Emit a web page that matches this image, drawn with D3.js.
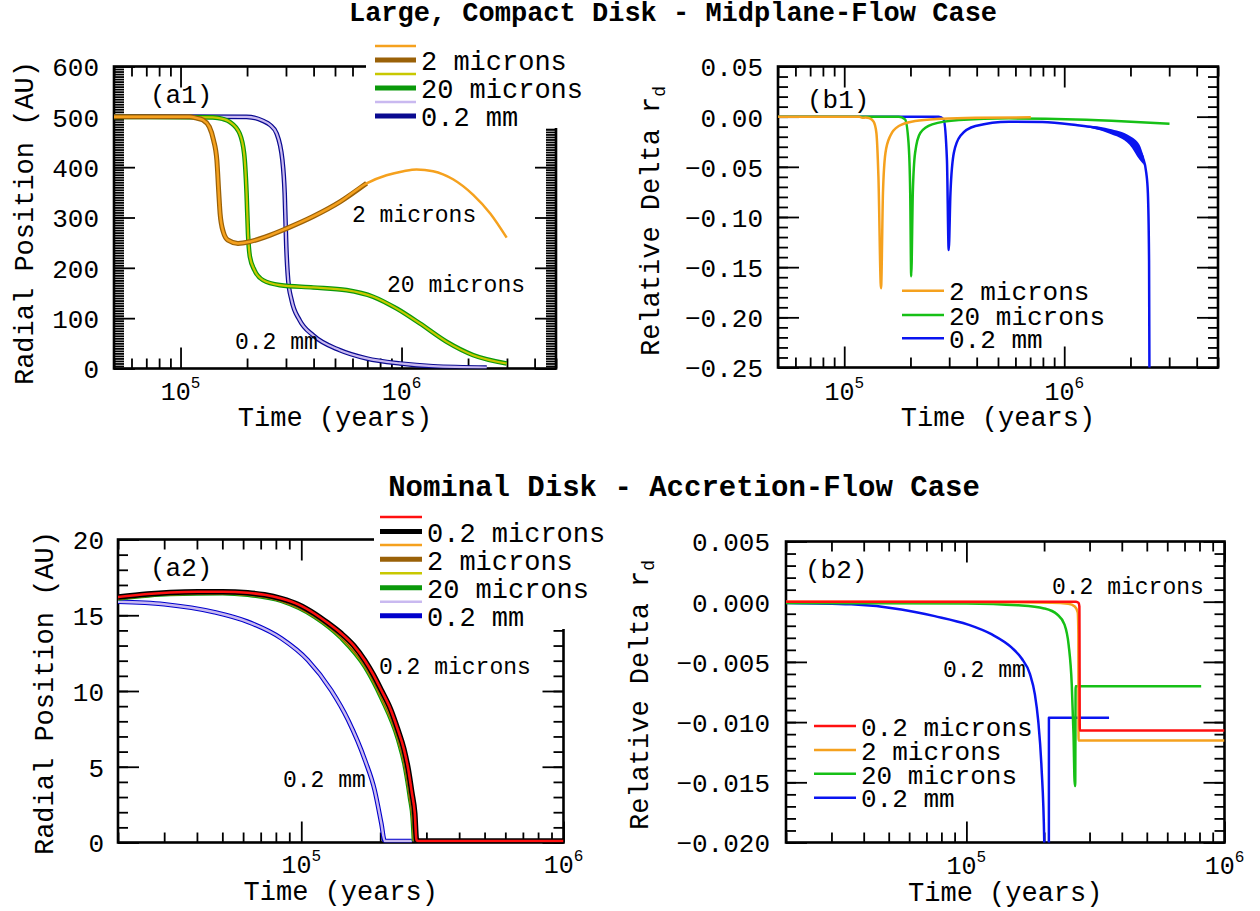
<!DOCTYPE html>
<html>
<head>
<meta charset="utf-8">
<title>Dust grain drift in two disk models</title>
<script src="https://cdn.jsdelivr.net/npm/d3@7/dist/d3.min.js"></script>
<style>
  html, body { margin: 0; padding: 0; background: #ffffff; }
  svg { display: block; }
</style>
</head>
<body>
<svg id="chart" width="1260" height="911"></svg>
<script>
// ---------------------------------------------------------------
// Data: each series is a list of [time (years), value]
// ---------------------------------------------------------------

// (a1) radial position (AU), large compact disk, midplane flow
const a1Brown2um = [[5.0e4,500],[1.10e5,500],[1.17e5,498],[1.26e5,494],[1.35e5,480],[1.41e5,454],
  [1.46e5,414],[1.49e5,348],[1.51e5,308],[1.56e5,272],[1.64e5,255],[1.82e5,248.5],[2.06e5,252],
  [2.44e5,262],[3.01e5,278],[3.98e5,302],[5.26e5,331],[6.95e5,368]];
const a1Orange2um = [[5.0e4,500],[1.10e5,500],[1.17e5,498],[1.26e5,494],[1.35e5,480],[1.41e5,454],
  [1.46e5,414],[1.49e5,348],[1.51e5,308],[1.56e5,272],[1.64e5,255],[1.82e5,248.5],[2.06e5,252],
  [2.44e5,262],[3.01e5,278],[3.98e5,302],[5.26e5,331],[6.95e5,368],[8.55e5,384],[1.02e6,392],
  [1.17e6,395.6],[1.39e6,392],[1.71e6,376],[2.11e6,345],[2.52e6,308],[2.99e6,260]];
const a1Green20um = [[5.0e4,500],[1.40e5,499],[1.55e5,496],[1.67e5,490],[1.85e5,467],[1.94e5,427],
  [1.99e5,348],[2.02e5,268],[2.06e5,222],[2.16e5,195.5],[2.36e5,175.6],[2.81e5,165.7],[3.98e5,161],
  [5.64e5,155.7],[7.45e5,142.5],[9.51e5,119],[1.21e6,89.5],[1.60e6,53],[2.11e6,26.5],[2.99e6,10]];
const a1Yellow20um = [[5.0e4,500],[1.40e5,499],[1.55e5,496],[1.67e5,490],[1.85e5,467],[1.94e5,427],
  [1.99e5,348],[2.02e5,268],[2.06e5,222],[2.16e5,195.5],[2.36e5,175.6],[2.81e5,165.7],[3.98e5,161],
  [5.64e5,155.7],[7.45e5,142.5],[9.51e5,119],[1.21e6,89.5],[1.60e6,53],[2.11e6,26.5],[2.99e6,10]];
const a1Navy02mm = [[5.0e4,501],[1.99e5,500],[2.36e5,492],[2.54e5,484],[2.72e5,467],[2.89e5,414],
  [2.96e5,348],[3.01e5,242],[3.07e5,175.6],[3.18e5,136],[3.46e5,96],[3.98e5,66],[5.26e5,36.4],
  [6.95e5,20],[9.84e5,10],[1.39e6,4.6],[2.43e6,2]];
const a1Lavender02mm = [[5.0e4,501],[1.99e5,500],[2.36e5,492],[2.54e5,484],[2.72e5,467],[2.89e5,414],
  [2.96e5,348],[3.01e5,242],[3.07e5,175.6],[3.18e5,136],[3.46e5,96],[3.98e5,66],[5.26e5,36.4],
  [6.95e5,20],[9.84e5,10],[1.39e6,4.6],[2.43e6,2]];

// (b1) relative delta r_d, large compact disk
const b1Orange2um = [[5.0e4,0],[1.17e5,0],[1.21e5,-0.0012],[1.25e5,-0.0008],[1.30e5,-0.0015],
  [1.36e5,-0.005],[1.40e5,-0.016],[1.43e5,-0.059],[1.47e5,-0.171],[1.50e5,-0.076],[1.54e5,-0.036],
  [1.62e5,-0.019],[1.77e5,-0.0093],[2.10e5,-0.0043],[2.78e5,-0.002],[3.95e5,-0.001],[7.05e5,-0.0007]];
const b1Green20um = [[5.0e4,0],[1.77e5,0],[1.89e5,-0.0027],[1.96e5,-0.026],[1.995e5,-0.076],
  [2.016e5,-0.159],[2.05e5,-0.076],[2.10e5,-0.036],[2.22e5,-0.016],[2.51e5,-0.0077],[3.32e5,-0.0033],
  [5.61e5,-0.0017],[1.13e6,-0.0027],[1.91e6,-0.0047],[3.01e6,-0.007]];
const b1Blue02mm = [[5.0e4,0],[2.69e5,0],[2.83e5,-0.0027],[2.93e5,-0.043],[2.985e5,-0.133],
  [3.04e5,-0.076],[3.15e5,-0.036],[3.375e5,-0.019],[3.95e5,-0.0093],[5.61e5,-0.005],[7.96e5,-0.0053],
  [1.13e6,-0.0083],[1.35e6,-0.0105],[1.60e6,-0.0143],[1.98e6,-0.0235],[2.20e6,-0.034],[2.28e6,-0.041],
  [2.36e6,-0.056],[2.40e6,-0.076],[2.43e6,-0.143],[2.44e6,-0.26]];
// scatter band of the 0.2 mm run late in its drift: [time, low, high]
const b1Blue02mmBand = [[1.20e6,-0.0095,-0.0092],[1.35e6,-0.0118,-0.0093],[1.60e6,-0.0167,-0.0120],
  [1.98e6,-0.0280,-0.0190],[2.20e6,-0.0430,-0.0280],[2.30e6,-0.0480,-0.0400]];

// (a2) radial position (AU), nominal disk, accretion flow
const a2Black02um = [[2.0e4,16.2],[2.59e4,16.4],[3.16e4,16.5],[4.03e4,16.55],[5.01e4,16.55],
  [6.25e4,16.48],[7.24e4,16.35],[8.40e4,16.1],[9.77e4,15.7],[1.125e5,15.1],[1.26e5,14.5],
  [1.42e5,13.8],[1.585e5,13.0],[1.75e5,12.0],[1.88e5,11.1],[2.02e5,10.05],[2.19e5,8.8],[2.34e5,7.4],
  [2.46e5,6.2],[2.56e5,4.8],[2.64e5,3.3],[2.71e5,1.9],[2.75e5,0.15],[2.79e5,0.1],[1.0e6,0.1]];
const a2Red02um = a2Black02um.map(d => d.slice());
const a2Brown2um = [[2.0e4,16.15],[3.16e4,16.45],[5.01e4,16.5],[6.25e4,16.42],[8.40e4,16.02],
  [1.125e5,15.0],[1.42e5,13.65],[1.75e5,11.8],[2.02e5,9.8],[2.34e5,7.1],[2.50e5,5.2],[2.62e5,3.0],
  [2.68e5,1.7],[2.72e5,0.1]];
const a2Orange2um = a2Brown2um.map(d => d.slice());
const a2Green20um = [[2.0e4,16.1],[3.16e4,16.4],[5.01e4,16.45],[6.25e4,16.35],[8.40e4,15.95],
  [1.125e5,14.9],[1.42e5,13.5],[1.75e5,11.6],[2.02e5,9.55],[2.34e5,6.8],[2.48e5,5.1],[2.60e5,2.9],
  [2.66e5,1.6],[2.69e5,0.1]];
const a2Yellow20um = a2Green20um.map(d => d.slice());
const a2Blue02mm = [[2.0e4,15.89],[3.0e4,15.73],[4.67e4,15.2],[6.25e4,14.57],[8.40e4,13.47],
  [1.06e5,12.03],[1.30e5,10.05],[1.51e5,8.07],[1.75e5,5.43],[1.905e5,3.45],[2.02e5,1.25],
  [2.08e5,0.1],[2.64e5,0.1]];
const a2Lavender02mm = a2Blue02mm.map(d => d.slice());

// (b2) relative delta r_d, nominal disk
const b2Red02um = [[2.0e4,0],[2.66e5,0],[2.72e5,-0.0001],[2.74e5,-0.0004],[2.75e5,-0.0107],[1.0e6,-0.0107]];
const b2Orange2um = [[2.0e4,0],[1.0e5,-0.00003],[2.14e5,-0.00008],[2.48e5,-0.00017],[2.63e5,-0.0004],
  [2.70e5,-0.0009],[2.715e5,-0.0027],[2.72e5,-0.01153],[1.0e6,-0.01153]];
const b2Green20um = [[2.0e4,-0.0001],[1.0e5,-0.00014],[1.59e5,-0.0003],[2.0e5,-0.00056],[2.25e5,-0.00106],
  [2.40e5,-0.0019],[2.49e5,-0.0036],[2.56e5,-0.0069],[2.60e5,-0.011],[2.63e5,-0.0153],[2.64e5,-0.0153],
  [2.65e5,-0.00703],[8.12e5,-0.00703]];
const b2Blue02mm = [[2.0e4,-0.0001],[3.58e4,-0.00022],[5.59e4,-0.00064],[7.54e4,-0.0012],[1.015e5,-0.0019],
  [1.25e5,-0.0027],[1.495e5,-0.0038],[1.635e5,-0.0047],[1.762e5,-0.006],[1.842e5,-0.0077],
  [1.898e5,-0.0099],[1.955e5,-0.0138],[2.003e5,-0.02],[2.01e5,-0.022],[2.087e5,-0.022],
  [2.088e5,-0.00964],[3.57e5,-0.00964]];

// Axis tick values
const a1YTicks = [0, 100, 200, 300, 400, 500, 600];
const b1YTicks = [-0.25, -0.20, -0.15, -0.10, -0.05, 0.00, 0.05];
const a2YTicks = [0, 5, 10, 15, 20];
const b2YTicks = [-0.020, -0.015, -0.010, -0.005, 0.000, 0.005];

// Legend labels
const sizeLabels3 = ["2 microns", "20 microns", "0.2 mm"];
const sizeLabels4 = ["0.2 microns", "2 microns", "20 microns", "0.2 mm"];

// Titles
const titleTop = "Large, Compact Disk - Midplane-Flow Case";
const titleBottom = "Nominal Disk - Accretion-Flow Case";

// ---------------------------------------------------------------
// Drawing
// ---------------------------------------------------------------
const FONT = "'Liberation Mono', 'DejaVu Sans Mono', monospace";
const C = {
  orange: "#f5a11e", brown: "#9a6108", yellow: "#c8c800", green: "#0a990a",
  lavender: "#c9b9f0", navy: "#0a0a90", bgreen: "#16c016", bblue: "#0a14f0",
  red: "#ff1010", black: "#000000", blue: "#0000cc"
};
const MINOR = 10, MAJOR = 21;

const svg = d3.select("#chart");
svg.append("rect").attr("width", 1260).attr("height", 911).attr("fill", "#fff");

function logTicks(domain) {
  const [lo, hi] = domain, major = [], minor = [];
  for (let e = Math.floor(Math.log10(lo)); e <= Math.ceil(Math.log10(hi)); e++) {
    for (let m = 1; m <= 9; m++) {
      const v = m * Math.pow(10, e);
      if (v < lo * 0.999 || v > hi * 1.001) continue;
      (m === 1 ? major : minor).push(v);
    }
  }
  return { major, minor };
}

function text(g, x, y, str, size, opts = {}) {
  return g.append("text").attr("x", x).attr("y", y)
    .attr("font-family", FONT).attr("font-size", size)
    .attr("font-weight", opts.bold ? "bold" : "normal")
    .attr("text-anchor", opts.anchor || "start").attr("fill", "#000").text(str);
}

function drawPanel(p) {
  const g = svg.append("g");
  const x = d3.scaleLog().domain(p.tDomain).range([p.x0, p.x1]);
  const y = d3.scaleLinear().domain([p.yTicks[0], p.yTicks[p.yTicks.length - 1]]).range([p.y1, p.y0]);
  const lt = logTicks(p.tDomain);
  const yMinor = d3.range(Math.round((y.domain()[1] - y.domain()[0]) / p.yMinorStep) + 1)
    .map(i => y.domain()[0] + i * p.yMinorStep);

  function ticks(axis, transform) {
    const a = g.append("g").attr("transform", transform).call(axis);
    a.select(".domain").remove();
    a.selectAll(".tick line").attr("stroke", "#000").attr("stroke-width", 1.8);
    return a;
  }
  // inward ticks on all four sides
  ticks(d3.axisBottom(x).tickValues(lt.minor).tickSize(-MINOR).tickFormat(""), `translate(0,${p.y1})`);
  ticks(d3.axisBottom(x).tickValues(lt.major).tickSize(-MAJOR).tickFormat(""), `translate(0,${p.y1})`);
  ticks(d3.axisTop(x).tickValues(lt.minor).tickSize(-MINOR).tickFormat(""), `translate(0,${p.y0})`);
  ticks(d3.axisTop(x).tickValues(lt.major).tickSize(-MAJOR).tickFormat(""), `translate(0,${p.y0})`);
  ticks(d3.axisLeft(y).tickValues(yMinor).tickSize(-MINOR).tickFormat(""), `translate(${p.x0},0)`);
  const left = ticks(d3.axisLeft(y).tickValues(p.yTicks).tickSize(-MAJOR).tickPadding(p.labelGap)
    .tickFormat(p.fmt), `translate(${p.x0},0)`);
  left.selectAll("text").attr("font-family", FONT).attr("font-size", 26).attr("fill", "#000")
    .attr("dy", "0.36em");
  ticks(d3.axisRight(y).tickValues(yMinor).tickSize(-MINOR).tickFormat(""), `translate(${p.x1},0)`);
  ticks(d3.axisRight(y).tickValues(p.yTicks).tickSize(-MAJOR).tickFormat(""), `translate(${p.x1},0)`);

  // decade labels 10^n
  lt.major.forEach(v => {
    const t = g.append("text").attr("x", x(v)).attr("y", p.xLabelY)
      .attr("text-anchor", "middle").attr("font-family", FONT).attr("font-size", 25).attr("fill", "#000");
    t.append("tspan").text("10");
    t.append("tspan").attr("dy", -12).attr("font-size", 16).text(Math.round(Math.log10(v)));
  });

  // frame
  g.append("rect").attr("x", p.x0).attr("y", p.y0).attr("width", p.x1 - p.x0).attr("height", p.y1 - p.y0)
    .attr("fill", "none").attr("stroke", "#000").attr("stroke-width", 2.6);

  // curves
  const clipId = "clip-" + p.id;
  svg.append("clipPath").attr("id", clipId).append("rect")
    .attr("x", p.x0).attr("y", p.y0).attr("width", p.x1 - p.x0).attr("height", p.y1 - p.y0);
  const plot = g.append("g").attr("clip-path", `url(#${clipId})`);
  const line = d3.line().x(d => x(d[0])).y(d => y(d[1])).curve(d3.curveMonotoneX);
  if (p.band) {
    const area = d3.area().x(d => x(d[0])).y0(d => y(d[1])).y1(d => y(d[2])).curve(d3.curveMonotoneX);
    plot.append("path").datum(p.band.data).attr("d", area).attr("fill", p.band.color);
  }
  p.series.forEach(s => {
    plot.append("path").datum(s.data).attr("d", line).attr("fill", "none")
      .attr("stroke", s.color).attr("stroke-width", s.width)
      .attr("stroke-linejoin", "round").attr("stroke-linecap", "butt");
  });

  // axis titles
  text(g, (p.x0 + p.x1) / 2, p.xTitleY, "Time (years)", 27, { anchor: "middle" });
  const yt = g.append("text").attr("transform", `translate(${p.yTitleX},${p.yTitleY}) rotate(-90)`)
    .attr("font-family", FONT).attr("font-size", 27).attr("fill", "#000")
    .attr("text-anchor", p.yTitleAnchor);
  yt.append("tspan").text(p.yTitle);
  if (p.yTitleSub) yt.append("tspan").attr("dy", 6).attr("font-size", 18).text(p.yTitleSub);

  // panel tag
  text(g, p.tag[1], p.tag[2], p.tag[0], 26);

  // annotations
  (p.notes || []).forEach(n => text(g, n[1], n[2], n[0], 23));

  // legend
  const L = p.legend;
  if (L.box) g.append("rect").attr("x", L.box[0]).attr("y", L.box[1]).attr("width", L.box[2])
    .attr("height", L.box[3]).attr("fill", "#fff");
  L.lines.forEach(l => g.append("line").attr("x1", L.x1).attr("x2", L.x2).attr("y1", l.y).attr("y2", l.y)
    .attr("stroke", l.color).attr("stroke-width", l.width));
  L.labels.forEach((s, i) => text(g, L.textX, L.textY[i], s, L.size || 27));
}

// ---- (a1) ----
drawPanel({
  id: "a1", x0: 114, x1: 556, y0: 66.5, y1: 368.5, tDomain: [5e4, 5e6],
  yTicks: a1YTicks, yMinorStep: 5, fmt: d3.format("d"), labelGap: 15,
  xLabelY: 400, xTitleY: 426,
  yTitle: "Radial Position (AU)", yTitleX: 33, yTitleY: 223, yTitleAnchor: "middle",
  tag: ["(a1)", 150, 103],
  notes: [["2 microns", 352, 221.5], ["20 microns", 387, 291.5], ["0.2 mm", 235, 349]],
  series: [
    { data: a1Navy02mm, color: C.navy, width: 4.6 },
    { data: a1Lavender02mm, color: C.lavender, width: 2.2 },
    { data: a1Green20um, color: C.green, width: 4.6 },
    { data: a1Yellow20um, color: C.yellow, width: 2.2 },
    { data: a1Brown2um, color: C.brown, width: 5 },
    { data: a1Orange2um, color: C.orange, width: 2.5 }
  ],
  legend: {
    box: [366, 34, 240, 94], x1: 375, x2: 416, textX: 421,
    lines: [
      { y: 46, color: C.orange, width: 2.5 }, { y: 60, color: C.brown, width: 5 },
      { y: 74, color: C.yellow, width: 2.5 }, { y: 88, color: C.green, width: 5 },
      { y: 102, color: C.lavender, width: 2.5 }, { y: 116, color: C.navy, width: 5 }
    ],
    labels: sizeLabels3, textY: [70, 98, 125.5]
  }
});

// ---- (b1) ----
drawPanel({
  id: "b1", x0: 778, x1: 1218, y0: 66.5, y1: 367.5, tDomain: [5e4, 5e6],
  yTicks: b1YTicks, yMinorStep: 0.01, fmt: d3.format(".2f"), labelGap: 15,
  xLabelY: 400, xTitleY: 426,
  yTitle: "Relative Delta r", yTitleSub: "d", yTitleX: 659, yTitleY: 356, yTitleAnchor: "start",
  tag: ["(b1)", 807, 108],
  band: { data: b1Blue02mmBand, color: C.bblue },
  series: [
    { data: b1Blue02mm, color: C.bblue, width: 2.5 },
    { data: b1Green20um, color: C.bgreen, width: 2.5 },
    { data: b1Orange2um, color: C.orange, width: 2.5 }
  ],
  legend: {
    x1: 902, x2: 944, textX: 949, size: 26,
    lines: [
      { y: 290.7, color: C.orange, width: 2.5 }, { y: 315, color: C.bgreen, width: 2.5 },
      { y: 338.3, color: C.bblue, width: 2.5 }
    ],
    labels: sizeLabels3, textY: [300, 324.5, 348]
  }
});

// ---- (a2) ----
drawPanel({
  id: "a2", x0: 118, x1: 563.5, y0: 539.5, y1: 842.5, tDomain: [2e4, 1e6],
  yTicks: a2YTicks, yMinorStep: 1, fmt: d3.format("d"), labelGap: 14,
  xLabelY: 873, xTitleY: 900,
  yTitle: "Radial Position (AU)", yTitleX: 53, yTitleY: 693, yTitleAnchor: "middle",
  tag: ["(a2)", 150, 576],
  notes: [["0.2 microns", 379, 674], ["0.2 mm", 283, 787]],
  series: [
    { data: a2Blue02mm, color: C.blue, width: 4.6 },
    { data: a2Lavender02mm, color: C.lavender, width: 2.4 },
    { data: a2Green20um, color: C.green, width: 4.6 },
    { data: a2Yellow20um, color: C.yellow, width: 2.2 },
    { data: a2Brown2um, color: C.brown, width: 4.6 },
    { data: a2Orange2um, color: C.orange, width: 2.2 },
    { data: a2Black02um, color: C.black, width: 5.5 },
    { data: a2Red02um, color: C.red, width: 2.6 }
  ],
  legend: {
    box: [374, 505, 245, 124], x1: 380, x2: 422, textX: 427,
    lines: [
      { y: 517, color: C.red, width: 2.5 }, { y: 531.5, color: C.black, width: 5 },
      { y: 545, color: C.orange, width: 2.5 }, { y: 559.3, color: C.brown, width: 5 },
      { y: 573.3, color: C.yellow, width: 2.5 }, { y: 587.7, color: C.green, width: 5 },
      { y: 601.7, color: C.lavender, width: 2.5 }, { y: 615.7, color: C.blue, width: 5 }
    ],
    labels: sizeLabels4, textY: [542, 570, 598.3, 625.7]
  }
});

// ---- (b2) ----
drawPanel({
  id: "b2", x0: 786, x1: 1224.5, y0: 541.5, y1: 842.5, tDomain: [2e4, 1e6],
  yTicks: b2YTicks, yMinorStep: 0.001, fmt: d3.format(".3f"), labelGap: 16,
  xLabelY: 874, xTitleY: 901,
  yTitle: "Relative Delta r", yTitleSub: "d", yTitleX: 648, yTitleY: 830, yTitleAnchor: "start",
  tag: ["(b2)", 805, 578],
  notes: [["0.2 microns", 1052, 594], ["0.2 mm", 943, 677]],
  series: [
    { data: b2Blue02mm, color: C.bblue, width: 2.5 },
    { data: b2Green20um, color: C.bgreen, width: 2.5 },
    { data: b2Orange2um, color: C.orange, width: 2.5 },
    { data: b2Red02um, color: C.red, width: 2.5 }
  ],
  legend: {
    x1: 814, x2: 856, textX: 861, size: 26,
    lines: [
      { y: 726, color: C.red, width: 2.5 }, { y: 750, color: C.orange, width: 2.5 },
      { y: 773.7, color: C.bgreen, width: 2.5 }, { y: 797.7, color: C.bblue, width: 2.5 }
    ],
    labels: sizeLabels4, textY: [735.5, 759.5, 783.5, 807]
  }
});

// row titles
text(svg, 673, 21, titleTop, 27, { anchor: "middle", bold: true });
text(svg, 684, 496, titleBottom, 29, { anchor: "middle", bold: true });
</script>
</body>
</html>
